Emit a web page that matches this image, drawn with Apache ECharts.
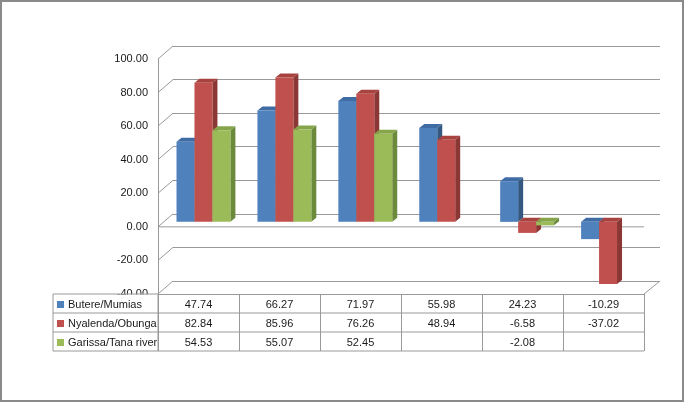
<!DOCTYPE html>
<html><head><meta charset="utf-8">
<script src="https://cdn.jsdelivr.net/npm/echarts@6/dist/echarts.min.js"></script>
<style>html,body{margin:0;padding:0;background:#fff}#c{width:685px;height:403px}</style>
</head><body><div id="c"></div>
<script>
const categories = ['1', '2', '3', '4', '5', '6'];
const seriesNames = ['Butere/Mumias', 'Nyalenda/Obunga', 'Garissa/Tana river'];
const butere = [47.74, 66.27, 71.97, 55.98, 24.23, -10.29];
const nyalenda = [82.84, 85.96, 76.26, 48.94, -6.58, -37.02];
const garissa = [54.53, 55.07, 52.45, null, -2.08, null];
const yTicks = [-40, -20, 0, 20, 40, 60, 80, 100];

const allSeries = [butere, nyalenda, garissa];
const frontC = ['#4F81BD', '#C0504D', '#9BBB59'];
const sideC = ['#34587F', '#8A3735', '#6C8A3C'];
const topC = ['#3F6CA4', '#A8423F', '#86A54B'];
const FONT = 'Liberation Sans';
const GRID = '#999999';
const fmt = v => (v === null || v === undefined) ? '' : v.toFixed(2);

function makeRender(si) {
  return function (params, api) {
    const v = api.value(1);
    if (v === null || v === undefined || isNaN(v)) return null;
    const c = api.value(0);
    const p0 = api.coord([c, 0]);
    const p1 = api.coord([c, v]);
    const band = api.size([1, 0])[0];
    const w = band * 0.222;
    const x = p0[0] - 1.5 * w + si * w;
    const yT = Math.min(p0[1], p1[1]), yB = Math.max(p0[1], p1[1]);
    const dx = 5, dy = -4;
    return {
      type: 'group', children: [
        { type: 'polygon', shape: { points: [[x + w, yT], [x + w + dx, yT + dy], [x + w + dx, yB + dy], [x + w, yB]] }, style: { fill: sideC[si] } },
        { type: 'polygon', shape: { points: [[x, yT], [x + dx, yT + dy], [x + w + dx, yT + dy], [x + w, yT]] }, style: { fill: topC[si] } },
        { type: 'rect', shape: { x: x, y: yT, width: w, height: yB - yT }, style: { fill: frontC[si] } }
      ]
    };
  };
}

const chart = echarts.init(document.getElementById('c'), null, { renderer: 'canvas' });
const yBase = { type: 'value', min: -40, max: 100, interval: 20 };
const option = {
  animation: false,
  backgroundColor: '#fff',
  grid: [
    { left: 173, right: 25, top: 46, bottom: 122 },   // back wall
    { left: 158, right: 41, top: 59, bottom: 109 },   // front (labels + table)
    { left: 163, right: 36.5, top: 54, bottom: 114 }  // bars
  ],
  xAxis: [
    { gridIndex: 0, type: 'category', data: categories, show: false },
    {
      gridIndex: 1, type: 'category', data: categories,
      axisLine: { show: true, onZero: false, lineStyle: { color: GRID, width: 1 } },
      axisTick: { show: true, interval: 0, length: 57, lineStyle: { color: GRID, width: 1 } },
      axisLabel: {
        interval: 0, margin: 1, fontFamily: FONT, fontSize: 11, color: '#1a1a1a', lineHeight: 19,
        formatter: (val, i) => allSeries.map(s => fmt(s[i]) || ' ').join('\n')
      }
    },
    { gridIndex: 2, type: 'category', data: categories, show: false }
  ],
  yAxis: [
    Object.assign({ gridIndex: 0, axisLine: { show: false }, axisTick: { show: false }, axisLabel: { show: false },
      splitLine: { show: true, lineStyle: { color: GRID, width: 1 } } }, yBase),
    Object.assign({ gridIndex: 1, axisLine: { show: true, lineStyle: { color: GRID, width: 1 } }, axisTick: { show: false },
      splitLine: { show: false },
      axisLabel: { fontFamily: FONT, fontSize: 11, color: '#1a1a1a', margin: 10, formatter: v => v.toFixed(2) } }, yBase),
    Object.assign({ gridIndex: 2, show: false, splitLine: { show: false } }, yBase)
  ],
  series: allSeries.map((arr, si) => ({
    type: 'custom', name: seriesNames[si], xAxisIndex: 2, yAxisIndex: 2, z: 5,
    renderItem: makeRender(si),
    data: arr.map((v, i) => [i, v === null ? NaN : v])
  }))
};
chart.setOption(option);

// frame decorations derived from the axes
const fy = v => chart.convertToPixel({ yAxisIndex: 1 }, v);
const by = v => chart.convertToPixel({ yAxisIndex: 0 }, v);
const g1 = chart.getModel().getComponent('grid', 1).coordinateSystem.getRect();
const g0 = chart.getModel().getComponent('grid', 0).coordinateSystem.getRect();
const ls = { stroke: GRID, lineWidth: 1 };
const gfx = [];
yTicks.forEach(t => {
  gfx.push({ type: 'line', z: 1, shape: { x1: g1.x, y1: fy(t), x2: g0.x, y2: by(t) }, style: ls });
});
// front zero line
gfx.push({ type: 'line', z: 1, shape: { x1: g1.x, y1: fy(0), x2: g1.x + g1.width, y2: fy(0) }, style: ls });
// right floor diagonal
gfx.push({ type: 'line', z: 1, shape: { x1: g1.x + g1.width, y1: fy(-40), x2: g0.x + g0.width, y2: by(-40) }, style: ls });
// table
const tTop = fy(-40), rowH = 19, tLeft = 53, tRight = g1.x + g1.width;
gfx.push({ type: 'rect', z: 8, shape: { x: tLeft, y: tTop + 0.5, width: g1.x - tLeft, height: 3 * rowH }, style: { fill: '#fff' } });
gfx.push({ type: 'line', z: 9, shape: { x1: tLeft, y1: tTop, x2: g1.x, y2: tTop }, style: ls });
for (let r = 1; r <= 3; r++) {
  const yy = tTop + r * rowH;
  gfx.push({ type: 'line', z: 9, shape: { x1: tLeft, y1: yy, x2: tRight, y2: yy }, style: ls });
}
gfx.push({ type: 'line', z: 9, shape: { x1: tLeft, y1: tTop, x2: tLeft, y2: tTop + 3 * rowH }, style: ls });
gfx.push({ type: 'line', z: 9, shape: { x1: g1.x, y1: tTop, x2: g1.x, y2: tTop + 3 * rowH }, style: ls });
seriesNames.forEach((n, r) => {
  const cy = tTop + r * rowH + rowH / 2 + 1;
  gfx.push({ type: 'rect', z: 9, shape: { x: 57, y: cy - 3.5, width: 7, height: 7 }, style: { fill: frontC[r] } });
  gfx.push({ type: 'text', z: 9, x: 68, y: cy, style: { text: n, fontFamily: FONT, fontSize: 11, fill: '#1a1a1a', verticalAlign: 'middle' } });
});
// outer border
gfx.push({ type: 'rect', z: 0, shape: { x: 1, y: 1, width: 682, height: 400 }, style: { fill: 'none', stroke: '#8a8a8a', lineWidth: 2 } });
chart.setOption({ graphic: gfx });
</script>
</body></html>
